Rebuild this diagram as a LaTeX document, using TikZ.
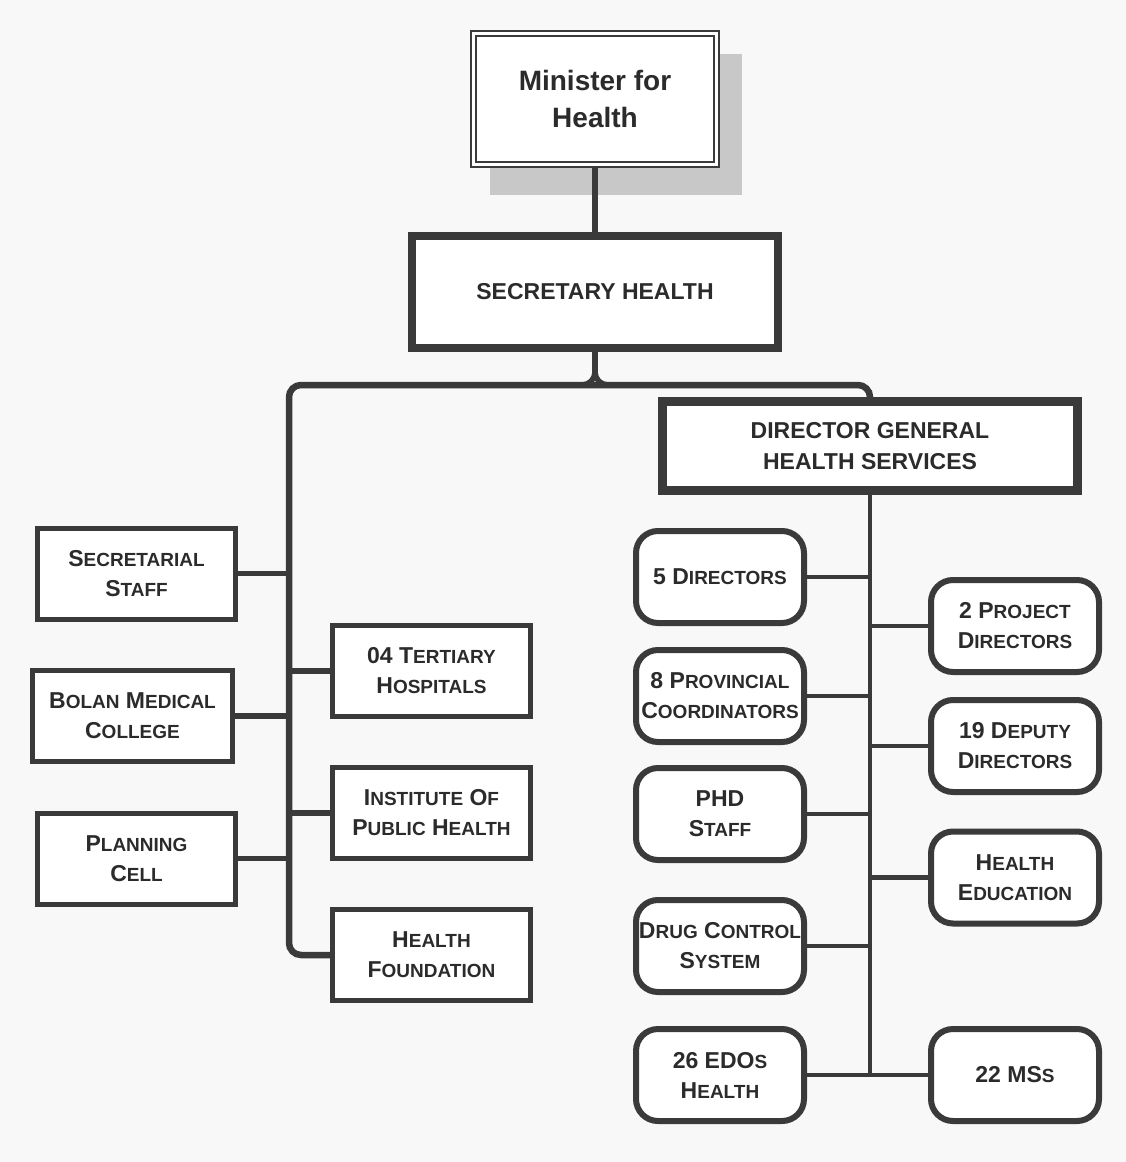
\documentclass[tikz,border=0pt]{standalone}
\usepackage{fontspec}
\setmainfont{Liberation Sans}
\usetikzlibrary{backgrounds}

\definecolor{ink}{HTML}{3A3A3A}
\definecolor{txt}{HTML}{2B2B2B}
\definecolor{paper}{HTML}{F8F8F8}
\definecolor{shadowgray}{HTML}{C8C8C8}

% capital initial followed by small-capital letters
\newcommand\Cap[2]{{\fontsize{23}{30}\selectfont #1}{\fontsize{19}{30}\selectfont #2}}

\tikzset{
  plainbox/.style={draw=ink, fill=white, line width=5pt, minimum width=198pt,
    minimum height=91pt, inner sep=0pt, align=center, text=txt,
    font=\fontsize{23}{30}\selectfont\bfseries},
  roundbox/.style={plainbox, rounded corners=22pt, line width=6pt,
    minimum width=168pt, minimum height=92pt},
  headbox/.style={plainbox, line width=8.5pt, font=\fontsize{23}{31}\selectfont\bfseries},
  trunk/.style={draw=ink, line width=6.5pt, rounded corners=12pt},
  link/.style={draw=ink, line width=5.5pt},
  rlink/.style={draw=ink, line width=4.5pt},
}

\begin{document}
\begin{tikzpicture}[x=1pt, y=-1pt]
  \useasboundingbox (0,0) rectangle (1126,1162);
  \begin{pgfonlayer}{background}
    \fill[paper] (0,0) rectangle (1126,1162);
    % shadow behind the minister's box
    \fill[shadowgray] (490,54) rectangle (742,195);
  \end{pgfonlayer}

  % top of the chart
  \node[draw=ink, fill=white, double=white, double distance=3pt, line width=2pt,
        minimum width=243pt, minimum height=131pt, align=center, text=txt,
        font=\fontsize{28}{37}\selectfont\bfseries] (min) at (595,99) {Minister for\\Health};
  \node[headbox, minimum width=366pt, minimum height=112pt] (sec) at (595,292) {SECRETARY HEALTH};
  \node[headbox, minimum width=415pt, minimum height=89pt] (dg) at (870,446)
       {DIRECTOR GENERAL\\HEALTH SERVICES};

  % left branch boxes
  \node[plainbox] (ss)   at (136.5,573.5) {\Cap{S}{ECRETARIAL}\\\Cap{S}{TAFF}};
  \node[plainbox, minimum width=200pt] (bmc) at (132.5,716) {\Cap{B}{OLAN} \Cap{M}{EDICAL}\\\Cap{C}{OLLEGE}};
  \node[plainbox] (pc)   at (136.5,858.5) {\Cap{P}{LANNING}\\\Cap{C}{ELL}};
  \node[plainbox] (tert) at (431.5,671) {\Cap{04 T}{ERTIARY}\\\Cap{H}{OSPITALS}};
  \node[plainbox] (iph)  at (431.5,813) {\Cap{I}{NSTITUTE} \Cap{O}{F}\\\Cap{P}{UBLIC} \Cap{H}{EALTH}};
  \node[plainbox] (hf)   at (431.5,955) {\Cap{H}{EALTH}\\\Cap{F}{OUNDATION}};

  % director general's units
  \node[roundbox] (dir5) at (720,577)  {\Cap{5 D}{IRECTORS}};
  \node[roundbox] (prov) at (720,696)  {\Cap{8 P}{ROVINCIAL}\\\Cap{C}{OORDINATORS}};
  \node[roundbox] (phd)  at (720,814)  {PHD\\\Cap{S}{TAFF}};
  \node[roundbox] (dcs)  at (720,946)  {\Cap{D}{RUG} \Cap{C}{ONTROL}\\\Cap{S}{YSTEM}};
  \node[roundbox] (edo)  at (720,1075) {\Cap{26 EDO}{S}\\\Cap{H}{EALTH}};
  \node[roundbox] (proj) at (1015,626) {\Cap{2 P}{ROJECT}\\\Cap{D}{IRECTORS}};
  \node[roundbox] (dep)  at (1015,746) {\Cap{19 D}{EPUTY}\\\Cap{D}{IRECTORS}};
  \node[roundbox] (hed)  at (1015,877.5) {\Cap{H}{EALTH}\\\Cap{E}{DUCATION}};
  \node[roundbox] (ms)   at (1015,1075) {\Cap{22 MS}{S}};

  % junction points
  \coordinate (fork) at (595,372);
  \coordinate (ltop) at (289,385);
  \coordinate (rbot) at (870,1075);

  % connectors, kept beneath the boxes
  \begin{pgfonlayer}{background}
    \draw[link] (min.south) -- (sec.north);
    \draw[link] (sec.south) -- (fork);
    \draw[link] (fork) to[out=-90,in=0] (582,385);
    \draw[link] (fork) to[out=-90,in=180] (608,385);
    \draw[trunk] (dg.north) -- (dg.north |- ltop) -- (ltop)
                 -- (hf.west -| ltop) -- (hf.west);
    \foreach \b in {ss,bmc,pc}
      \draw[link] (\b.east) -- (\b.east -| ltop);
    \foreach \b in {tert,iph}
      \draw[link] (\b.west) -- (\b.west -| ltop);

    \draw[rlink] (dg.south) -- (rbot);
    \foreach \b in {dir5,prov,phd,dcs}
      \draw[rlink] (\b.east) -- (\b.east -| rbot);
    \foreach \b in {proj,dep,hed}
      \draw[rlink] (\b.west) -- (\b.west -| rbot);
    \draw[rlink] (edo.east) -- (ms.west);
  \end{pgfonlayer}
\end{tikzpicture}
\end{document}
